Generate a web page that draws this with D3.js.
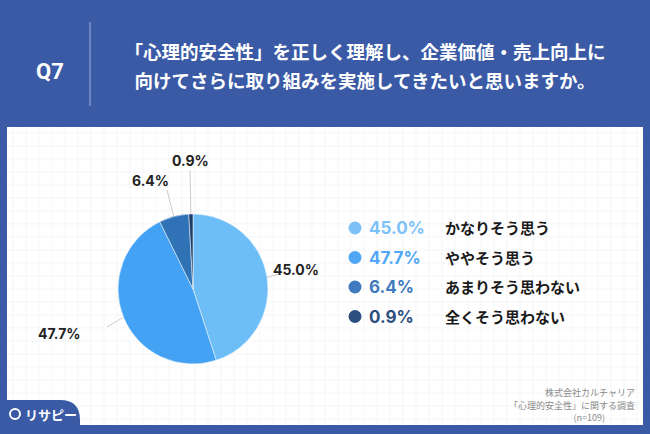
<!DOCTYPE html>
<html><head><meta charset="utf-8">
<script src="https://cdn.jsdelivr.net/npm/d3@7"></script>
<style>body{margin:0;background:#3a5aa6;}svg{display:block;font-family:"Noto Sans CJK JP","Noto Sans",sans-serif;}</style>
</head><body><svg id="c" width="650" height="434"></svg>
<script>
const categories = ["かなりそう思う","ややそう思う","あまりそう思わない","全くそう思わない"];
const values = [45.0, 47.7, 6.4, 0.9];
const valueLabels = ["45.0%","47.7%","6.4%","0.9%"];
const pieColors = ["#6dbdf7","#43a2f3","#2f72b5","#1d3f6b"];
const legendColors = ["#7cc1f8","#4fa7f6","#3f7abf","#2c4f80"];

const svg = d3.select("#c");
svg.append("rect").attr("width",650).attr("height",434).attr("fill","#3a5aa6");
svg.append("rect").attr("x",7).attr("y",127).attr("width",636).attr("height",298).attr("fill","#fff");
const g = svg.append("g").attr("stroke","#eef0f4").attr("stroke-width",0.6);
for(let x=13;x<643;x+=13) g.append("line").attr("x1",x).attr("x2",x).attr("y1",127).attr("y2",425);
for(let y=133;y<425;y+=13) g.append("line").attr("x1",7).attr("x2",643).attr("y1",y).attr("y2",y);

svg.append("text").attr("x",50).attr("y",79).attr("fill","#fff").attr("font-size",22).attr("font-weight",700).attr("text-anchor","middle").attr("font-family","Roboto,'Noto Sans',sans-serif").text("Q7");
svg.append("line").attr("x1",90).attr("x2",90).attr("y1",22).attr("y2",106).attr("stroke","#9fb0d8").attr("stroke-width",1);
svg.append("text").attr("x",365).attr("y",59).attr("fill","#fff").attr("font-size",18.5).attr("font-weight",700).attr("text-anchor","middle").text("「心理的安全性」を正しく理解し、企業価値・売上向上に");
svg.append("text").attr("x",365).attr("y",88).attr("fill","#fff").attr("font-size",18.5).attr("font-weight",700).attr("text-anchor","middle").text("向けてさらに取り組みを実施してきたいと思いますか。");

const cx=193, cy=289, r=75;
const pie = d3.pie().sort(null)(values);
const arc = d3.arc().innerRadius(0).outerRadius(r);
const pg = svg.append("g").attr("transform",`translate(${cx},${cy})`);
pg.selectAll("path").data(pie).join("path").attr("d",arc).attr("fill",(d,i)=>pieColors[i]).attr("stroke","#fff").attr("stroke-width",0.5);

const labelPos = [[273,270],[38,334],[132,181],[172,161]];
const lineEnds = [[279,274],[107,327],[167,190],[190,170]];
pie.forEach((d,i)=>{
  const a=(d.startAngle+d.endAngle)/2;
  const p0=[cx+Math.sin(a)*r, cy-Math.cos(a)*r];
  const e=lineEnds[i];
  svg.append("line").attr("x1",p0[0]).attr("y1",p0[1]).attr("x2",e[0]).attr("y2",e[1]).attr("stroke","#ccc").attr("stroke-width",1);
  svg.append("text").attr("x",labelPos[i][0]).attr("y",labelPos[i][1]+5).attr("font-size",14).attr("font-weight",700).attr("fill","#222").attr("font-family","Inter,'Noto Sans',sans-serif").text(valueLabels[i]);
});

const lg = svg.append("g");
categories.forEach((c,i)=>{
  const y = 228 + i*29.5;
  lg.append("circle").attr("cx",355).attr("cy",y).attr("r",6.5).attr("fill",legendColors[i]);
  lg.append("text").attr("x",369).attr("y",y+6).attr("font-size",17).attr("font-weight",700).attr("fill",legendColors[i]).attr("font-family","Inter,'Noto Sans',sans-serif").text(valueLabels[i]);
  lg.append("text").attr("x",445).attr("y",y+6).attr("font-size",15).attr("font-weight",700).attr("fill","#1a1a1a").text(c);
});

const src=["株式会社カルチャリア","「心理的安全性」に関する調査","(n=109)"];
src.forEach((s,i)=>svg.append("text").attr("x",i==2?605:635).attr("y",396+i*12.5).attr("text-anchor","end").attr("font-size",9).attr("fill","#8a8a8a").text(s));

svg.append("path").attr("d","M0,400 L0,434 L80,434 L80,420 Q80,400 60,400 Z").attr("fill","#3a5aa6");
svg.append("circle").attr("cx",15).attr("cy",414).attr("r",5).attr("fill","none").attr("stroke","#fff").attr("stroke-width",2);
svg.append("text").attr("x",25).attr("y",420).attr("font-size",13).attr("font-weight",700).attr("fill","#fff").text("リサピー");
</script></body></html>
